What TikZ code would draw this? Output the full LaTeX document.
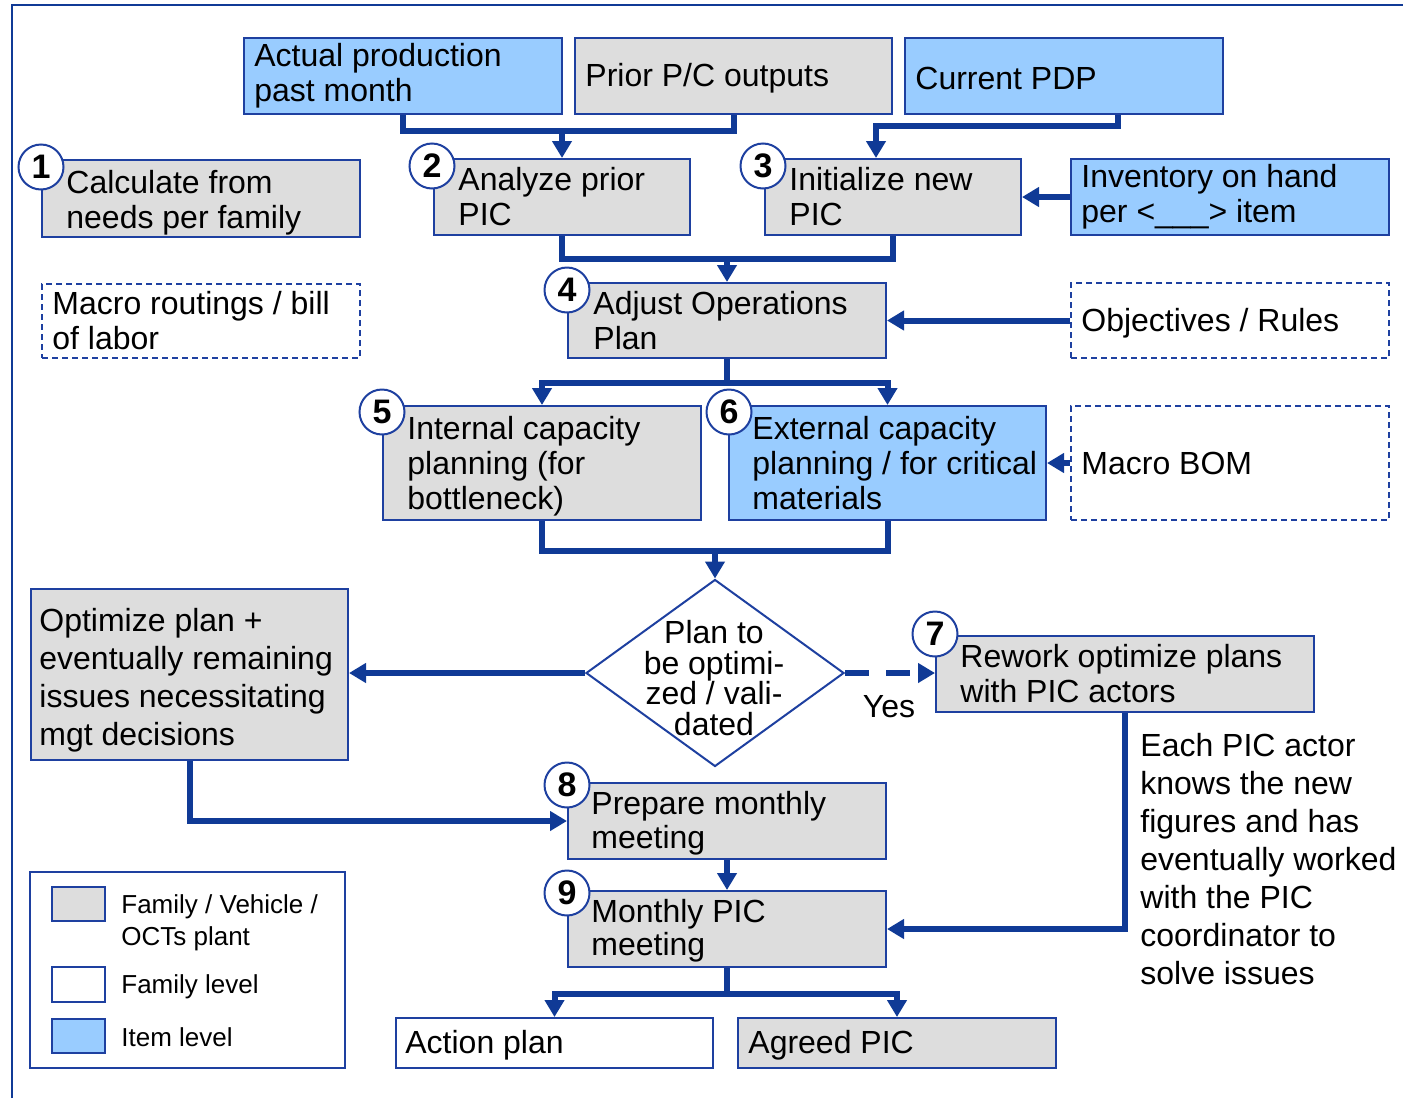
\documentclass[tikz,border=0pt]{standalone}
\usepackage{fontspec}
\setmainfont{Liberation Sans}
\usetikzlibrary{arrows.meta,shapes.geometric}

\definecolor{navy}{RGB}{16,58,150}
\definecolor{rim}{RGB}{30,64,160}
\definecolor{boxgray}{RGB}{221,221,221}
\definecolor{boxblue}{RGB}{153,204,255}

\tikzset{
  box/.style={draw=rim, line width=1pt, rectangle, inner sep=0pt},
  famplant/.style={box, fill=boxgray},
  item/.style={box, fill=boxblue},
  family/.style={box, fill=white},
  famdash/.style={box, fill=white, dash pattern=on 3pt off 2pt},
  txt/.style={inner sep=0pt, align=left, font=\fontsize{16}{17.5}\selectfont},
  legtxt/.style={inner sep=0pt, align=left, font=\fontsize{13}{16}\selectfont},
  numc/.style={circle, draw=rim, line width=1pt, fill=white, minimum size=22.5pt,
    inner sep=0pt, font=\fontsize{17}{17}\selectfont\bfseries},
  link/.style={draw=navy, line width=3pt},
  arr/.style={link, -{Triangle[length=8.5pt,width=9.5pt]}},
  dasharr/.style={arr, dash pattern=on 12pt off 8.5pt},
}

% box from (x1,y1) to (x2,y2) in pixel units, text set in from the left edge
% #1 text options, #2 name, #3 box style, #4-#7 corners, #8 left pad, #9 text
\newcommand\flowbox[9][]{%
  \pgfmathsetlengthmacro\bw{(#6-#4)*0.5pt}%
  \pgfmathsetlengthmacro\bh{(#7-#5)*0.5pt}%
  \node[#3, minimum width=\bw, minimum height=\bh] (#2) at ({(#4+#6)/2},{(#5+#7)/2}) {};
  \node[txt, anchor=west, #1] (#2-t) at ([xshift={#8*0.5pt}]#2.west) {#9};
}

\begin{document}
\begin{tikzpicture}[x=0.5pt, y=-0.5pt]
\useasboundingbox (0,0) rectangle (1403,1098);

% outer frame
\draw[draw=navy, line width=1pt] (12,1098) -- (12,5) -- (1403,5);

% inputs
\flowbox{actual}{item}{244}{38}{562}{114}{11}{Actual production\\past month}
\flowbox[yshift=-1pt]{prior}{famplant}{575}{38}{892}{114}{11}{Prior P/C outputs}
\flowbox[yshift=-1pt]{pdp}{item}{905}{38}{1223}{114}{11}{Current PDP}

% steps and side inputs
\flowbox[yshift=-2pt]{s1}{famplant}{42}{160}{360}{237}{25}{Calculate from\\needs per family}
\flowbox{s2}{famplant}{434}{159}{690}{235}{25}{Analyze prior\\PIC}
\flowbox{s3}{famplant}{765}{159}{1021}{235}{25}{Initialize new\\PIC}
\flowbox{inv}{item}{1071}{159}{1389}{235}{11}{Inventory on hand\\per <\_\_\_> item}
\flowbox{routing}{famdash}{42}{284}{360}{358}{11}{Macro routings / bill\\of labor}
\flowbox{s4}{famplant}{568}{283}{886}{358}{26}{Adjust Operations\\Plan}
\flowbox[yshift=-1.5pt]{rules}{famdash}{1071}{283}{1389}{358}{11}{Objectives / Rules}
\flowbox[yshift=-1.5pt]{s5}{famplant}{383}{406}{701}{520}{25}{Internal capacity\\planning (for\\bottleneck)}
\flowbox{s6}{item}{729}{406}{1046}{520}{24}{External capacity\\planning / for critical\\materials}
\flowbox{bom}{famdash}{1071}{406}{1389}{520}{11}{Macro BOM}
\flowbox[font=\fontsize{16}{19}\selectfont, yshift=-3pt]{opt}{famplant}{31}{589}{348}{760}{9}{Optimize plan +\\eventually remaining\\issues necessitating\\mgt decisions}
\flowbox{s7}{famplant}{936}{636}{1314}{712}{25}{Rework optimize plans\\with PIC actors}
\flowbox[font=\fontsize{16}{17}\selectfont, yshift=-1pt]{s8}{famplant}{568}{783}{886}{859}{24}{Prepare monthly\\meeting}
\flowbox[font=\fontsize{16}{16.5}\selectfont, yshift=-1pt]{s9}{famplant}{568}{891}{886}{967}{24}{Monthly PIC\\meeting}
\flowbox[yshift=-1pt]{act}{family}{396}{1018}{713}{1068}{10}{Action plan}
\flowbox[yshift=-1pt]{agr}{famplant}{738}{1018}{1056}{1068}{11}{Agreed PIC}

% decision
\node[diamond, draw=rim, line width=1pt, fill=white, minimum width=129pt,
  minimum height=93.5pt, inner sep=0pt] (dec) at (715,673) {};
\node[txt, align=center, font=\fontsize{16}{15.2}\selectfont] (dec-t) at (714,678)
  {Plan to\\be optimi-\\zed / vali-\\dated};

% note beside the rework loop
\node[txt, anchor=north west, font=\fontsize{16}{19}\selectfont] (note) at (1140,733)
  {Each PIC actor\\knows the new\\figures and has\\eventually worked\\with the PIC\\coordinator to\\solve issues};

% connectors
\draw[link] (actual.south) -- ++(0,16) -| (prior.south);
\draw[arr] (s2.north |- 0,130) -- (s2.north);
\draw[arr] (pdp.south -| 1118,0) -- ++(0,11) -| (s3.north -| 876,0);
\draw[arr] (inv.west) -- (s3.east);
\draw[link] (s2.south) -- ++(0,23) -| (s3.south);
\draw[arr] (s4.north |- 0,258) -- (s4.north);
\draw[arr] (rules.west) -- (s4.east);
\draw[arr] (s4.south) -- ++(0,24) -| (s5.north);
\draw[arr] (s4.south) -- ++(0,24) -| (s6.north);
\draw[arr] (bom.west) -- (s6.east);
\draw[link] (s5.south) -- ++(0,30) -| (s6.south);
\draw[arr] (dec.north |- 0,550) -- (dec.north);
\draw[arr] (dec.west) -- (opt.east |- dec.west);
\draw[dasharr] (dec.east) -- (s7.west |- dec.east);
\node[txt] (yes) at (889,707) {Yes};
\draw[arr] (opt.south) |- (s8.west);
\draw[arr] (s8.south) -- (s9.north);
\draw[arr] (s7.south) |- (s9.east);
\draw[arr] (s9.south) -- ++(0,26) -| (act.north);
\draw[arr] (s9.south) -- ++(0,26) -| (agr.north);

% step numbers
\node[numc] (c1) at (41,167) {1};
\node[numc] (c2) at (432,166) {2};
\node[numc] (c3) at (763,166) {3};
\node[numc] (c4) at (567,290) {4};
\node[numc] (c5) at (382,412) {5};
\node[numc] (c6) at (729,412) {6};
\node[numc] (c7) at (935,634) {7};
\node[numc] (c8) at (567,785) {8};
\node[numc] (c9) at (567,893) {9};

% legend
\node[box, minimum width=157.5pt, minimum height=98pt] (legend) at (187.5,970) {};
\node[famplant, minimum width=26.5pt, minimum height=17pt] (lg1) at (78.5,904) {};
\node[family, minimum width=26.5pt, minimum height=17.5pt] (lg2) at (78.5,984.5) {};
\node[item, minimum width=26.5pt, minimum height=17pt] (lg3) at (78.5,1036) {};
\node[legtxt, anchor=north west] (lg1-t) at (121,894) {Family / Vehicle /\\OCTs plant};
\node[legtxt, anchor=west] (lg2-t) at (121,987) {Family level};
\node[legtxt, anchor=west] (lg3-t) at (121,1037) {Item level};
\end{tikzpicture}
\end{document}
